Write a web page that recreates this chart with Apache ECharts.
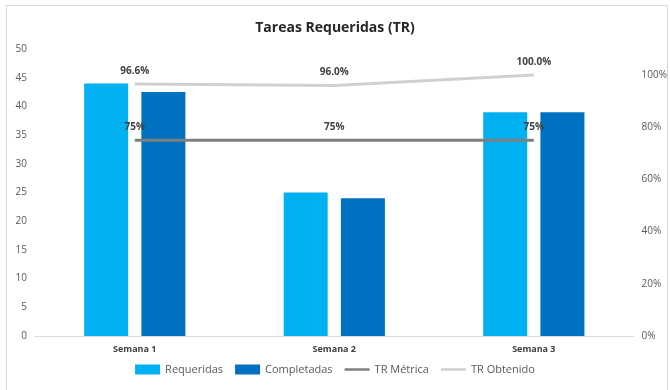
<!DOCTYPE html>
<html><head><meta charset="utf-8">
<script src="https://cdn.jsdelivr.net/npm/echarts@6/dist/echarts.min.js"></script>
<style>
html,body{margin:0;padding:0;background:#fff;}
#frame{position:absolute;left:6px;top:5px;width:662px;height:400px;border:1px solid #d9d9d9;box-sizing:border-box;}
#c{position:absolute;left:0;top:0;width:670px;height:390px;}
</style></head>
<body><div id="frame"></div><div id="c"></div>
<script>
const categories = ['Semana 1', 'Semana 2', 'Semana 3'];
const requeridas = [44, 25, 39];
const completadas = [42.5, 24, 39];
const trMetrica = [0.75, 0.75, 0.75];
const trObtenido = [0.966, 0.96, 1.0];
const leftTicks = {min: 0, max: 50, interval: 5};
const rightTicks = {min: 0, max: 1.1, interval: 0.2};

const font = '"Open Sans", "Noto Sans", sans-serif';
const chart = echarts.init(document.getElementById('c'));
chart.setOption({
  animation: false,
  textStyle: {fontFamily: font},
  title: {text: 'Tareas Requeridas (TR)', left: 'center', top: 16,
    textStyle: {fontSize: 14, fontWeight: 'bold', color: '#262626', fontFamily: font}},
  grid: {left: 35, right: 35, top: 49, bottom: 54},
  legend: {
    bottom: 10, left: 'center', itemGap: 12, itemWidth: 25, itemHeight: 10,
    textStyle: {fontSize: 11, color: '#595959', fontFamily: font},
    data: [
      {name: 'Requeridas', icon: 'rect'},
      {name: 'Completadas', icon: 'rect'},
      {name: 'TR Métrica', icon: 'path://M0,0H30V3H0Z'},
      {name: 'TR Obtenido', icon: 'path://M0,0H30V3H0Z'}
    ]
  },
  xAxis: {type: 'category', data: categories,
    axisLine: {lineStyle: {color: '#d9d9d9', width: 1}}, axisTick: {show: false},
    axisLabel: {fontSize: 9, fontWeight: 'bold', color: '#404040', margin: 9}},
  yAxis: [
    {type: 'value', min: leftTicks.min, max: leftTicks.max, interval: leftTicks.interval,
      splitLine: {show: false}, axisLine: {show: false}, axisTick: {show: false},
      axisLabel: {fontSize: 10, color: '#595959', margin: 8}},
    {type: 'value', min: rightTicks.min, max: rightTicks.max, interval: rightTicks.interval,
      splitLine: {show: false}, axisLine: {show: false}, axisTick: {show: false},
      axisLabel: {fontSize: 10, color: '#595959', margin: 8,
        formatter: v => v > 1.0001 ? '' : Math.round(v * 100) + '%'}}
  ],
  series: [
    {name: 'Requeridas', type: 'bar', data: requeridas, barWidth: 44, barGap: '30%',
      itemStyle: {color: '#00B0F0'}},
    {name: 'Completadas', type: 'bar', data: completadas, barWidth: 44, barGap: '30%',
      itemStyle: {color: '#0070C0'}},
    {name: 'TR Métrica', type: 'line', yAxisIndex: 1, data: trMetrica,
      symbol: 'circle', symbolSize: 0, showSymbol: true,
      itemStyle: {color: '#7f7f7f'}, lineStyle: {color: '#7f7f7f', width: 3},
      label: {show: true, position: 'top', distance: 8, fontSize: 10, fontWeight: 'bold', color: '#404040',
        formatter: p => Math.round(p.value * 100) + '%'}, z: 5},
    {name: 'TR Obtenido', type: 'line', yAxisIndex: 1, data: trObtenido,
      symbol: 'circle', symbolSize: 0, showSymbol: true,
      itemStyle: {color: '#d0d0d0'}, lineStyle: {color: '#d0d0d0', width: 3},
      label: {show: true, position: 'top', distance: 8, fontSize: 10, fontWeight: 'bold', color: '#404040',
        formatter: p => (p.value * 100).toFixed(1) + '%'}, z: 5}
  ]
});
</script></body></html>
